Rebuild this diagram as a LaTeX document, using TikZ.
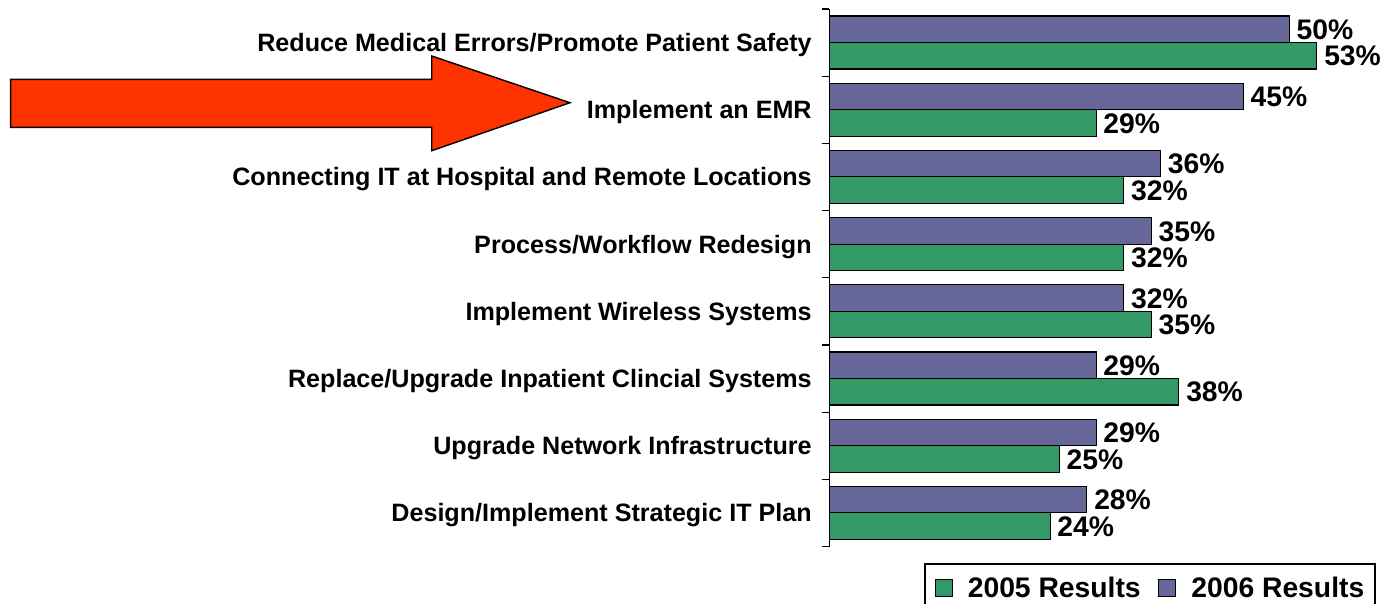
\documentclass[tikz,border=0pt]{standalone}
\usepackage{fontspec}
\setmainfont{Liberation Sans}
\usetikzlibrary{positioning}
\definecolor{bar2005}{HTML}{339966}
\definecolor{bar2006}{HTML}{666699}
\definecolor{arrowred}{HTML}{FF3300}

\begin{document}
\begin{tikzpicture}[x=0.02cm,y=-0.02cm,
	catlabel/.style={anchor=base east,inner sep=0pt,font=\fontsize{14.3}{16}\selectfont\bfseries},
	pctlabel/.style={anchor=base west,inner sep=0pt,font=\fontsize{16.1}{18}\selectfont\bfseries},
	bar/.style={draw=black,line width=0.6pt},
	legkey/.style={draw=black,line width=0.5pt,minimum size=0.34cm,inner sep=0pt}]
	\useasboundingbox (0,0) rectangle (1385,603);
	
	% draw big arrow
	\draw[line width=0.8pt,fill=arrowred] (10.7,79.3) -- (431.7,79.3) -- (431.7,56) -- (570,102.7)
		-- (431.7,150.7) -- (431.7,127.3) -- (10.7,127.3) -- cycle;
	
	% draw axis and ticks
	\draw[line width=0.6pt] (829.3,9) -- (829.3,546.6);
	\foreach \k in {0,...,8}
	{
		\draw[line width=0.6pt] (821.7,9+67.2*\k) -- (829.3,9+67.2*\k);
	}
	
	% draw bars with labels
	\foreach \k/\name/\new/\old in {0/{Reduce Medical Errors/Promote Patient Safety}/50/53,
		1/{Implement an EMR}/45/29,
		2/{Connecting IT at Hospital and Remote Locations}/36/32,
		3/{Process/Workflow Redesign}/35/32,
		4/{Implement Wireless Systems}/32/35,
		5/{Replace/Upgrade Inpatient Clincial Systems}/29/38,
		6/{Upgrade Network Infrastructure}/29/25,
		7/{Design/Implement Strategic IT Plan}/28/24}
	{
		\pgfmathsetmacro{\t}{9+67.2*\k}
		\draw[bar,fill=bar2006] (829.3,\t+7) rectangle (829.3+\new*9.2,\t+33.5);
		\draw[bar,fill=bar2005] (829.3,\t+33.5) rectangle (829.3+\old*9.2,\t+60);
		\node[catlabel] (cat-\k) at (812,\t+42.5) {\name};
		\node[pctlabel] (new-\k) at (829.3+\new*9.2+7,\t+30.4) {\new\%};
		\node[pctlabel] (old-\k) at (829.3+\old*9.2+7,\t+56.9) {\old\%};
	}
	
	% draw legend
	\draw[line width=0.6pt,fill=white] (925,564) rectangle (1375,615);
	\node[legkey,fill=bar2005] (key2005) at (943.5,587.5) {};
	\node[pctlabel,anchor=west,right=0.3cm of key2005] (leg2005) {2005 Results};
	\node[legkey,fill=bar2006,right=0.34cm of leg2005] (key2006) {};
	\node[pctlabel,anchor=west,right=0.3cm of key2006] (leg2006) {2006 Results};
\end{tikzpicture}
\end{document}
